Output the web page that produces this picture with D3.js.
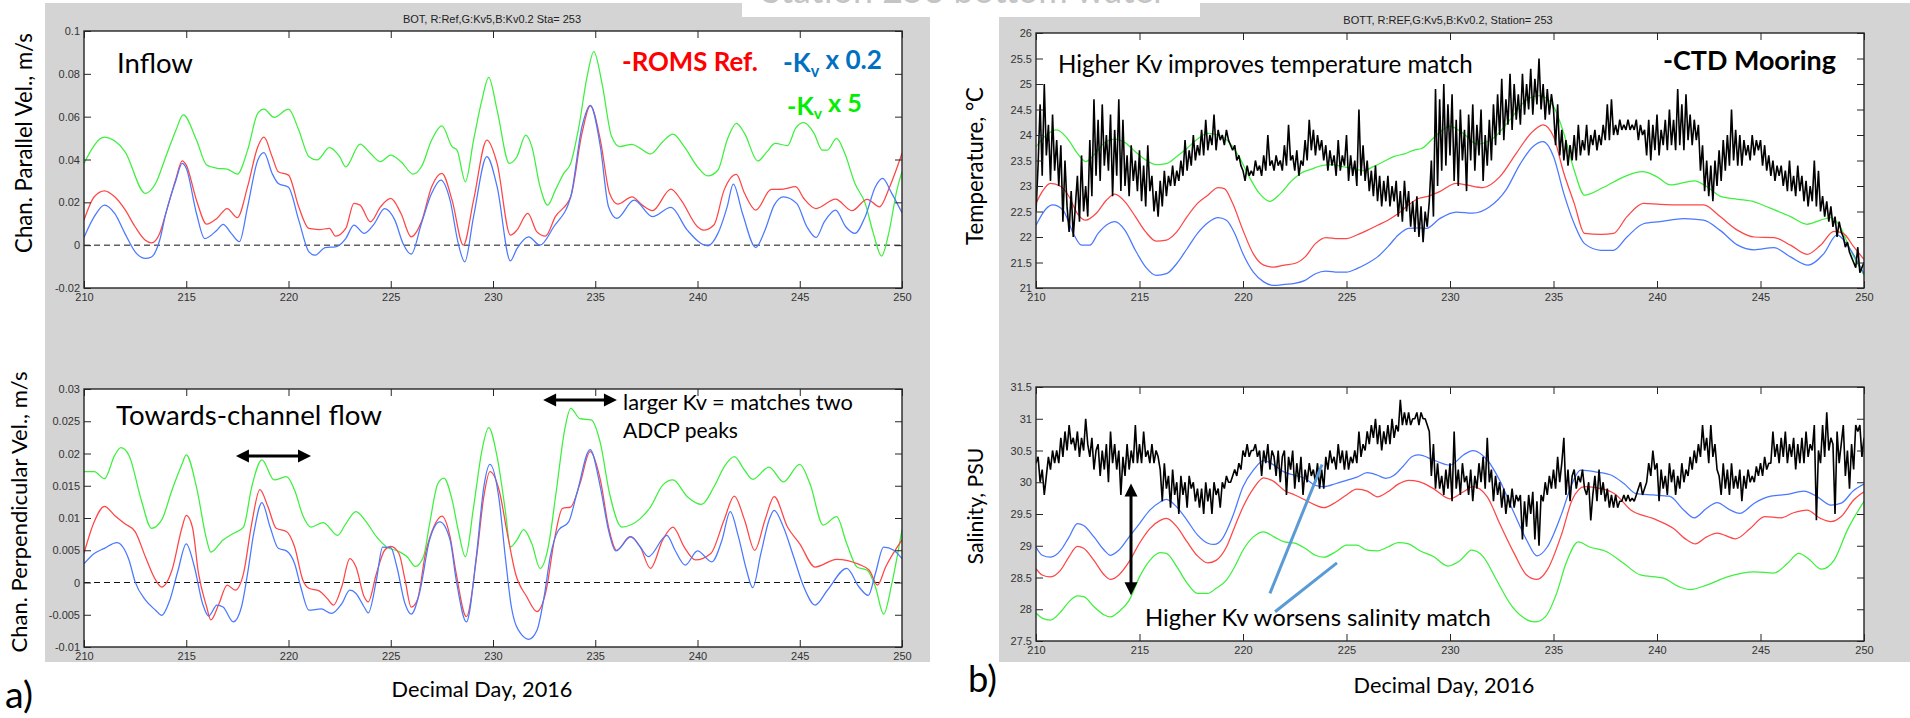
<!DOCTYPE html>
<html><head><meta charset="utf-8">
<script src="https://cdn.jsdelivr.net/npm/d3@7"></script>
<style>
html,body{margin:0;padding:0;background:#fff;}
svg{display:block;}
</style></head><body>
<svg id="fig" width="1910" height="718"></svg>
<script>
// ---------- data: model runs as [decimal day, value] ----------
const dayTicks = [210, 215, 220, 225, 230, 235, 240, 245, 250];
const inflowTicks = [-0.02, 0, 0.02, 0.04, 0.06, 0.08, 0.1];
const crossTicks = [-0.01, -0.005, 0, 0.005, 0.01, 0.015, 0.02, 0.025, 0.03];
const tempTicks = [21, 21.5, 22, 22.5, 23, 23.5, 24, 24.5, 25, 25.5, 26];
const saltTicks = [27.5, 28, 28.5, 29, 29.5, 30, 30.5, 31, 31.5];

// channel-parallel velocity (m/s)
const inflowKv5 = [[210,0.0382],[211,0.0504],[212,0.0437],[213,0.0242],[213.5,0.0288],[214,0.0413],[214.5,0.0538],[214.85,0.0608],[215.5,0.0491],[216,0.0374],[216.5,0.0359],[217,0.0355],[217.5,0.0332],[218,0.0444],[218.5,0.0616],[218.8,0.0635],[219.3,0.0597],[220,0.0635],[220.5,0.0538],[221,0.0413],[221.4,0.0398],[222,0.0455],[222.5,0.0413],[222.8,0.0366],[223.5,0.0472],[224,0.0429],[224.5,0.039],[225,0.0421],[225.5,0.039],[226.1,0.0332],[226.5,0.0366],[227,0.0491],[227.5,0.0557],[228,0.046],[228.24,0.0444],[228.65,0.0296],[229.05,0.0491],[229.46,0.0678],[229.79,0.0784],[230.2,0.0631],[230.8,0.0382],[231.17,0.0413],[231.6,0.0514],[231.9,0.046],[232.3,0.0273],[232.67,0.0187],[233.05,0.0257],[233.46,0.0335],[233.8,0.0382],[234.2,0.0553],[234.6,0.0787],[234.93,0.0904],[235.33,0.0756],[235.8,0.0507],[236.2,0.046],[236.8,0.0471],[237.2,0.0452],[237.7,0.0426],[238.3,0.0483],[238.8,0.0518],[239.35,0.046],[240,0.0366],[240.5,0.0323],[241,0.0351],[241.45,0.0491],[241.9,0.0569],[242.3,0.0522],[242.95,0.0393],[243.4,0.0437],[243.8,0.0475],[244.4,0.0465],[244.8,0.0546],[245.2,0.0572],[245.7,0.0522],[246.1,0.0444],[246.35,0.0444],[246.8,0.0499],[247.2,0.0429],[247.7,0.0288],[248.2,0.0195],[248.6,0.0055],[249,-0.0051],[249.35,0.0055],[249.75,0.0257],[250,0.0343]];
const inflowRef = [[210,0.0117],[210.5,0.0226],[211,0.0254],[211.5,0.0226],[212,0.0167],[212.5,0.0086],[213,0.0023],[213.3,0.0011],[213.7,0.0055],[214,0.0148],[214.5,0.0312],[214.8,0.0394],[215,0.0374],[215.5,0.021],[216,0.0098],[216.5,0.0125],[217,0.0171],[217.5,0.0129],[218,0.0273],[218.5,0.046],[218.8,0.0504],[219.2,0.0413],[219.5,0.0343],[220,0.0327],[220.5,0.0179],[221,0.0078],[221.5,0.0073],[222,0.0078],[222.3,0.0042],[222.8,0.0078],[223.2,0.0195],[223.5,0.0187],[224,0.0109],[224.5,0.0179],[225,0.0218],[225.5,0.0148],[226,0.0039],[226.5,0.0109],[227,0.0273],[227.5,0.0335],[228,0.021],[228.55,0.0],[229.05,0.021],[229.7,0.0491],[230.2,0.0382],[230.85,0.0047],[231.17,0.007],[231.7,0.0148],[232.15,0.0062],[232.56,0.0042],[233.05,0.0133],[233.8,0.0226],[234.35,0.0522],[234.76,0.065],[235.25,0.0491],[235.7,0.0242],[236.1,0.0192],[236.8,0.0226],[237.3,0.0187],[237.8,0.0161],[238.7,0.0262],[239.2,0.021],[240,0.0086],[240.3,0.007],[240.8,0.0094],[241.3,0.0257],[241.9,0.0331],[242.3,0.0242],[242.85,0.0164],[243.6,0.026],[244.2,0.0262],[244.8,0.0273],[245.2,0.0218],[245.8,0.0171],[246.75,0.0215],[247.55,0.0161],[248.3,0.0214],[248.9,0.0179],[249.4,0.0273],[250,0.0429]];
const inflowKv02 = [[210,0.0036],[210.5,0.0133],[211,0.0187],[211.5,0.0148],[212,0.0055],[212.5,-0.0031],[213,-0.0062],[213.3,-0.0055],[213.7,0.0023],[214,0.0148],[214.5,0.0304],[214.8,0.0382],[215,0.0359],[215.5,0.0148],[215.9,0.0031],[216.5,0.007],[216.8,0.0097],[217.2,0.0055],[217.6,0.0016],[218,0.0179],[218.5,0.0398],[218.8,0.0432],[219.2,0.0335],[219.5,0.0288],[220,0.027],[220.5,0.0117],[221,-0.0031],[221.3,-0.0047],[221.8,-0.0011],[222.3,-0.0008],[222.8,0.0031],[223.2,0.0094],[223.7,0.0055],[224.2,0.0101],[224.7,0.0171],[225.2,0.0117],[225.6,0.0008],[226,-0.0042],[226.5,0.0101],[227,0.0242],[227.45,0.0304],[227.9,0.021],[228.3,0.0008],[228.62,-0.0078],[229.05,0.0133],[229.7,0.0413],[230.2,0.0273],[230.85,-0.0073],[231.17,-0.0016],[231.74,0.0039],[232.3,0.0],[232.97,0.0086],[233.8,0.0226],[234.35,0.0553],[234.76,0.0653],[235.25,0.046],[235.65,0.0179],[236.05,0.0125],[236.9,0.021],[237.8,0.0133],[238.7,0.0176],[239.5,0.007],[240.5,-0.0003],[241,0.0055],[241.45,0.0179],[241.75,0.0285],[242.2,0.0148],[242.85,-0.0011],[243.3,0.007],[243.75,0.0187],[244.2,0.0226],[244.85,0.0195],[245.35,0.0086],[245.8,0.0036],[246.2,0.0109],[246.75,0.0164],[247.25,0.0086],[247.7,0.0055],[248.2,0.0133],[248.7,0.0273],[249.05,0.0312],[249.5,0.0242],[250,0.0151]];

// channel-perpendicular velocity (m/s)
const crossKv5 = [[210,0.0172],[210.5,0.0172],[211,0.0161],[211.5,0.0197],[211.8,0.0209],[212.2,0.0197],[212.8,0.0128],[213.3,0.0084],[213.8,0.0097],[214.3,0.0143],[214.8,0.0184],[215,0.0198],[215.5,0.0148],[216,0.0066],[216.2,0.0047],[216.8,0.0066],[217.3,0.0076],[217.8,0.0086],[218.2,0.0148],[218.7,0.019],[219.3,0.0159],[219.9,0.0164],[220.3,0.0143],[220.7,0.0104],[221.1,0.0086],[221.7,0.0093],[222.4,0.0073],[222.8,0.0091],[223.3,0.011],[223.8,0.0094],[224.3,0.0071],[224.8,0.0055],[225.4,0.0048],[225.8,0.004],[226.2,0.0025],[226.6,0.004],[226.9,0.0091],[227.3,0.0153],[227.6,0.0162],[228,0.0128],[228.3,0.0081],[228.65,0.004],[229.05,0.0117],[229.46,0.0205],[229.79,0.024],[230.2,0.0195],[230.6,0.0112],[230.85,0.0055],[231.17,0.0066],[231.5,0.0082],[231.9,0.006],[232.3,0.0022],[232.7,0.0055],[233.1,0.0143],[233.5,0.0236],[233.8,0.027],[234.25,0.0254],[234.8,0.0252],[235.25,0.0216],[235.7,0.0138],[236.3,0.0086],[237.2,0.0099],[237.7,0.0117],[238.3,0.0151],[238.8,0.0159],[239.5,0.0133],[240.2,0.0121],[240.8,0.0148],[241.3,0.0179],[241.8,0.0195],[242.3,0.0174],[242.7,0.016],[243.5,0.0179],[244.2,0.0156],[245,0.0183],[245.5,0.0153],[246.15,0.0089],[246.8,0.0102],[247.3,0.006],[247.8,0.0024],[248.3,0.0019],[248.7,-0.0007],[249.1,-0.0049],[249.5,-0.0002],[250,0.0082]];
const crossRef = [[210,0.0045],[210.5,0.0094],[211,0.0118],[211.5,0.0104],[212,0.0091],[212.5,0.0079],[213,0.004],[213.5,0.0004],[213.8,-0.0007],[214.3,0.0019],[214.8,0.0086],[215,0.0104],[215.3,0.0086],[215.6,0.0014],[216,-0.0038],[216.2,-0.0058],[216.6,-0.0033],[217,-0.0004],[217.4,-0.0012],[217.8,0.0014],[218.2,0.0091],[218.6,0.0144],[219,0.0117],[219.4,0.0084],[219.9,0.0079],[220.3,0.0055],[220.7,0.0004],[221,-0.0009],[221.5,-0.0013],[221.9,-0.0025],[222.2,-0.0035],[222.6,-0.0007],[223,0.0037],[223.3,0.0024],[223.7,-0.0022],[223.9,-0.003],[224.3,0.0014],[224.7,0.005],[225,0.0056],[225.4,0.0045],[225.7,0.0004],[226,-0.0038],[226.3,-0.0027],[226.7,0.0045],[227.1,0.0086],[227.5,0.0103],[227.9,0.0071],[228.2,0.0014],[228.7,-0.0053],[229.2,0.004],[229.55,0.0133],[229.85,0.0172],[230.3,0.0143],[230.7,0.0076],[231.1,0.0014],[231.65,-0.0022],[232.15,-0.0045],[232.6,-0.0012],[233,0.0066],[233.4,0.0115],[233.8,0.0117],[234.25,0.0153],[234.75,0.0203],[235.25,0.0159],[235.65,0.0086],[236.05,0.005],[236.7,0.0071],[237.2,0.0055],[237.7,0.0022],[238.3,0.0066],[238.8,0.0086],[239.35,0.0055],[239.9,0.0035],[240.65,0.0045],[241.3,0.0097],[241.8,0.0134],[242.3,0.0097],[242.8,0.005],[243.3,0.0097],[243.75,0.0133],[244.4,0.0086],[245,0.006],[245.75,0.0024],[246.8,0.0036],[247.9,0.0028],[248.4,0.0019],[248.8,-0.0004],[249.2,0.0024],[250,0.0066]];
const crossKv02 = [[210,0.0029],[210.5,0.0045],[211,0.0053],[211.6,0.0062],[212.2,0.0035],[212.5,0.0001],[213,-0.0027],[213.5,-0.0043],[213.8,-0.0051],[214.2,-0.0027],[214.6,0.0019],[215,0.006],[215.4,0.0024],[215.8,-0.0033],[216.1,-0.0052],[216.5,-0.0035],[216.8,-0.0038],[217.3,-0.0061],[217.7,-0.0038],[218,0.0014],[218.3,0.0076],[218.7,0.0124],[219.1,0.0086],[219.5,0.0053],[219.9,0.0049],[220.3,0.0029],[220.6,-0.0007],[221,-0.0043],[221.6,-0.0041],[222.1,-0.0048],[222.6,-0.0033],[223,-0.0012],[223.3,-0.0017],[223.7,-0.0038],[223.9,-0.0047],[224.3,0.0004],[224.6,0.0055],[225,0.0054],[225.3,0.0024],[225.7,-0.0033],[226,-0.0049],[226.4,-0.0017],[226.9,0.0066],[227.4,0.0094],[227.9,0.0066],[228.2,0.0004],[228.7,-0.0061],[229.2,0.0045],[229.55,0.0148],[229.85,0.0183],[230.3,0.0128],[230.6,0.004],[230.9,-0.0038],[231.35,-0.0079],[231.75,-0.0088],[232.15,-0.0074],[232.5,-0.0022],[232.8,0.004],[233.2,0.0081],[233.7,0.0094],[234.1,0.0138],[234.75,0.0206],[235.25,0.0148],[235.65,0.0081],[236,0.0049],[236.75,0.0071],[237.2,0.0055],[237.6,0.004],[238.5,0.0073],[238.9,0.005],[239.4,0.0027],[240,0.0049],[240.7,0.0032],[241.2,0.0066],[241.6,0.011],[242,0.0071],[242.4,0.0019],[242.7,-0.0008],[243.1,0.0045],[243.5,0.0097],[243.75,0.0112],[244.2,0.0086],[244.7,0.004],[245.2,-0.0007],[245.75,-0.0035],[246.35,-0.0012],[247.3,0.0022],[247.9,-0.0007],[248.35,-0.002],[248.7,0.0014],[249.1,0.0055],[249.6,0.005],[250,0.0037]];

// bottom temperature (°C)
const tempKv5 = [[210,23.77],[210.5,24.0],[211,24.1],[211.5,23.94],[212,23.64],[212.4,23.48],[212.8,23.61],[213.3,23.85],[213.8,23.92],[214.3,23.85],[214.8,23.67],[215.3,23.51],[215.8,23.42],[216.3,23.44],[216.8,23.58],[217.3,23.74],[217.8,23.92],[218.3,24.03],[218.8,24.0],[219.3,23.87],[219.8,23.58],[220.3,23.18],[220.8,22.85],[221.3,22.7],[221.8,22.85],[222.3,23.08],[222.8,23.25],[223.3,23.33],[223.8,23.4],[224.3,23.42],[224.8,23.38],[225.3,23.35],[225.8,23.3],[226.3,23.38],[226.8,23.48],[227.3,23.58],[227.8,23.63],[228.3,23.71],[228.6,23.73],[229.2,23.94],[230,24.17],[230.65,24.03],[231.3,23.82],[232.1,23.94],[232.9,24.3],[233.7,24.69],[234.35,24.77],[235,24.56],[235.5,24.03],[236,23.31],[236.5,22.82],[237.4,22.97],[238.4,23.18],[239.3,23.28],[240,23.18],[240.65,23.02],[241.8,23.1],[242.4,22.99],[243.1,22.79],[243.9,22.74],[244.7,22.69],[245.5,22.56],[246.45,22.4],[247.25,22.25],[247.9,22.33],[248.4,22.38],[248.85,22.2],[249.35,21.74],[250,21.25]];
const tempRef = [[210,22.66],[210.3,22.89],[210.7,23.05],[211.2,22.99],[211.6,22.79],[212,22.46],[212.4,22.33],[212.9,22.46],[213.4,22.72],[213.8,22.84],[214.3,22.69],[214.8,22.4],[215.3,22.1],[215.8,21.92],[216.3,21.94],[216.8,22.1],[217.3,22.4],[217.8,22.66],[218.3,22.82],[218.8,22.97],[219.1,22.95],[219.5,22.66],[220,22.13],[220.5,21.67],[221,21.45],[221.5,21.41],[222,21.45],[222.5,21.48],[223,21.61],[223.5,21.87],[224,21.99],[224.6,21.97],[225,21.97],[225.5,22.04],[226,22.13],[226.5,22.23],[227,22.33],[227.5,22.46],[228,22.63],[228.5,22.76],[228.87,22.79],[229.5,22.89],[230.3,23.05],[230.8,23.02],[231.6,22.97],[232.4,23.18],[233.2,23.64],[233.9,24.03],[234.5,24.2],[235,23.97],[235.5,23.25],[236,22.66],[236.5,22.07],[237.3,22.05],[237.9,22.07],[238.55,22.4],[239.35,22.66],[240.15,22.64],[241.3,22.63],[242.25,22.63],[243.05,22.4],[243.9,22.13],[244.7,22.0],[245.65,21.99],[246.45,21.84],[247.25,21.66],[247.9,21.84],[248.55,22.11],[249,22.07],[249.5,21.81],[250,21.56]];
const tempKv02 = [[210,22.23],[210.5,22.56],[210.8,22.63],[211.3,22.53],[211.8,22.07],[212.2,21.84],[212.6,21.84],[213,22.07],[213.5,22.26],[213.8,22.3],[214.3,22.13],[214.8,21.74],[215.3,21.41],[215.8,21.25],[216.3,21.28],[216.8,21.48],[217.3,21.77],[217.8,22.07],[218.3,22.28],[218.8,22.38],[219.2,22.33],[219.6,22.07],[220,21.67],[220.5,21.31],[221,21.12],[221.5,21.05],[222,21.07],[222.5,21.09],[223,21.15],[223.5,21.28],[224,21.33],[224.6,21.31],[225,21.31],[225.5,21.38],[226,21.48],[226.5,21.61],[227,21.81],[227.5,22.04],[228,22.17],[228.5,22.18],[228.87,22.17],[229.5,22.36],[230.3,22.49],[231.1,22.47],[231.9,22.59],[232.7,22.92],[233.4,23.44],[234,23.77],[234.5,23.87],[235,23.58],[235.5,22.85],[236,22.26],[236.5,21.87],[237.3,21.74],[237.9,21.74],[238.55,22.0],[239.35,22.26],[240.15,22.3],[241.3,22.36],[242.25,22.33],[243.05,22.13],[243.9,21.84],[244.7,21.75],[245.65,21.79],[246.45,21.61],[247.3,21.45],[248.05,21.67],[248.7,22.04],[249.2,21.84],[249.7,21.51],[250,21.28]];
// CTD mooring temperature, sampled every 0.1 day from day 210
const tempObs = [
22.5,23.4,24.6,23.2,25.0,23.6,24.2,23.1,24.4,23.3,
23.9,23.0,23.8,22.3,23.5,22.6,22.1,22.9,22.0,22.6,
23.2,22.3,23.6,22.5,23.0,22.4,23.9,22.8,24.7,23.2,
24.3,23.1,24.6,23.4,24.0,23.3,24.4,22.8,24.1,23.2,
24.7,22.9,24.3,23.0,23.6,22.8,23.8,23.1,23.5,22.9,
23.7,22.7,23.4,22.6,23.8,22.9,23.2,22.5,22.9,22.4,
23.1,22.6,23.3,22.8,23.2,23.0,23.4,23.0,23.3,23.1,
23.5,23.2,23.9,23.3,23.7,23.4,24.0,23.5,23.8,23.6,
24.1,23.6,24.3,23.7,24.0,23.8,24.4,23.7,24.1,23.9,
24.0,23.8,24.1,23.9,23.8,23.7,23.8,23.5,23.6,23.4,
23.3,23.1,23.4,23.2,23.3,23.2,23.5,23.3,23.4,23.2,
23.6,23.3,24.0,23.4,23.5,23.3,23.6,23.4,23.5,23.3,
23.8,23.4,24.2,23.5,23.6,23.3,23.7,23.2,23.5,23.4,
23.9,23.5,24.3,23.7,24.1,23.6,24.0,23.7,23.9,23.5,
23.8,23.3,23.7,23.4,23.6,23.2,23.9,23.3,23.6,23.4,
24.0,23.1,23.6,23.2,23.5,23.0,24.5,23.2,23.8,23.1,
23.5,22.9,23.3,22.8,23.4,22.7,23.2,22.6,23.1,22.7,
23.2,22.6,23.0,22.7,23.1,22.4,22.9,22.3,23.1,22.5,
22.9,22.2,22.7,22.1,22.8,22.0,22.6,21.9,22.5,22.2,
22.7,23.5,22.4,24.9,23.0,24.7,23.3,25.0,23.4,24.6,
23.6,24.8,23.1,24.3,23.0,24.5,23.5,24.1,22.9,24.4,
23.5,24.6,23.3,24.2,23.6,24.5,23.1,24.0,23.4,24.3,
23.5,24.6,23.8,24.8,24.0,25.1,23.9,24.7,24.2,25.2,
24.1,25.0,24.3,24.8,24.2,25.2,24.4,25.0,24.5,25.3,
24.4,25.1,24.6,25.5,24.5,25.0,24.3,24.9,24.4,24.8,
24.5,23.8,24.6,23.6,24.1,23.5,23.9,23.4,23.8,23.5,
24.0,23.5,24.2,23.6,23.9,23.7,24.2,23.6,24.0,23.8,
24.1,23.7,24.0,23.8,24.2,23.9,24.6,23.9,24.7,24.0,
24.2,24.0,24.3,24.1,24.2,24.1,24.3,24.1,24.2,24.1,
24.3,23.9,24.2,24.0,24.1,23.6,24.3,23.5,24.2,23.7,
24.4,23.6,24.1,23.8,24.3,23.7,24.5,23.8,24.3,23.7,
24.9,23.8,24.6,23.7,24.8,23.9,24.4,23.8,24.3,23.9,
24.2,23.3,23.8,22.9,23.5,22.8,23.4,22.7,23.5,23.0,
23.7,23.1,23.9,23.3,24.0,23.4,24.5,23.5,24.1,23.4,
24.0,23.4,23.9,23.6,23.8,23.5,24.0,23.6,23.9,23.7,
23.9,23.4,23.8,23.3,23.6,23.2,23.5,23.1,23.4,23.2,
23.4,23.0,23.3,22.9,23.5,22.9,23.2,22.8,23.4,22.9,
23.2,22.7,23.1,22.6,23.0,22.7,23.5,22.6,23.3,22.5,
22.8,22.4,22.7,22.3,22.6,22.2,22.4,22.0,22.3,22.1,
22.0,21.8,21.9,21.7,21.6,21.5,21.4,21.8,21.3,21.4,
21.5];

// bottom salinity (PSU)
const saltKv02 = [[210,28.98],[210.3,28.85],[210.7,28.82],[211.2,28.93],[211.6,29.14],[212,29.35],[212.3,29.32],[212.8,29.14],[213.3,28.93],[213.6,28.85],[214,28.93],[214.5,29.14],[215,29.35],[215.5,29.56],[216,29.69],[216.3,29.73],[216.8,29.61],[217.3,29.4],[217.8,29.17],[218.3,29.04],[218.6,29.02],[219,29.11],[219.5,29.46],[220,29.93],[220.5,30.19],[221,30.34],[221.5,30.27],[222,30.16],[222.5,30.11],[223,30.06],[223.5,29.95],[223.9,29.93],[224.5,29.98],[225,30.03],[225.5,30.08],[226,30.15],[226.5,30.11],[226.9,30.06],[227.3,30.11],[227.7,30.24],[228.2,30.41],[228.5,30.43],[229.2,30.35],[230,30.27],[230.65,30.43],[231.1,30.5],[231.8,30.35],[232.4,30.03],[233.1,29.51],[233.7,29.09],[234.2,28.84],[234.7,28.98],[235.4,29.51],[235.9,29.98],[236.3,30.19],[237.1,30.16],[237.8,30.11],[238.4,29.98],[239,29.82],[239.8,29.8],[240.6,29.78],[241.3,29.56],[241.8,29.44],[242.4,29.59],[242.9,29.68],[243.55,29.56],[244,29.51],[244.7,29.67],[245.5,29.78],[246.3,29.81],[247.1,29.86],[247.75,29.77],[248.4,29.64],[248.9,29.67],[249.5,29.87],[250,29.97]];
const saltRef = [[210,28.64],[210.3,28.54],[210.7,28.51],[211.2,28.62],[211.6,28.83],[212,28.99],[212.3,28.96],[212.8,28.77],[213.3,28.54],[213.6,28.47],[214,28.54],[214.5,28.75],[215,29.04],[215.5,29.27],[216,29.4],[216.3,29.43],[216.8,29.3],[217.3,29.06],[217.8,28.84],[218.3,28.73],[218.7,28.77],[219.2,28.98],[219.6,29.3],[220,29.61],[220.5,29.9],[221,30.07],[221.5,30.01],[222,29.87],[222.5,29.8],[223,29.72],[223.5,29.64],[223.9,29.6],[224.5,29.69],[225,29.8],[225.5,29.89],[226,29.86],[226.5,29.77],[227,29.85],[227.5,29.97],[228,30.03],[228.5,30.01],[229.2,29.9],[230,29.74],[230.65,29.85],[231.1,29.93],[231.8,29.77],[232.4,29.35],[233.1,28.88],[233.7,28.54],[234.2,28.47],[234.7,28.62],[235.4,29.19],[235.9,29.72],[236.5,29.93],[237.3,29.9],[237.95,29.82],[238.75,29.56],[239.8,29.43],[240.8,29.27],[241.45,29.09],[241.85,29.03],[242.4,29.14],[242.9,29.2],[243.8,29.11],[244.5,29.27],[245.2,29.46],[246,29.44],[246.6,29.52],[247.25,29.56],[247.9,29.43],[248.4,29.38],[248.9,29.46],[249.5,29.72],[250,29.85]];
const saltKv5 = [[210,27.94],[210.3,27.86],[210.7,27.83],[211.2,27.96],[211.6,28.12],[212,28.21],[212.3,28.2],[212.8,28.04],[213.3,27.91],[213.6,27.88],[214,27.96],[214.5,28.14],[215,28.51],[215.5,28.77],[216,28.89],[216.3,28.88],[216.8,28.67],[217.3,28.41],[217.8,28.25],[218.3,28.25],[218.7,28.33],[219.2,28.46],[219.6,28.67],[220,28.93],[220.5,29.14],[221,29.22],[221.5,29.14],[222,29.06],[222.5,29.04],[223,28.96],[223.5,28.85],[223.9,28.82],[224.5,28.91],[225,29.01],[225.5,29.01],[226,28.93],[226.5,28.92],[227,28.98],[227.5,29.05],[228,29.03],[228.5,28.93],[229.2,28.83],[229.9,28.68],[230.5,28.77],[231.05,28.93],[231.6,28.83],[232.25,28.46],[232.9,28.09],[233.5,27.88],[234.1,27.8],[234.6,27.88],[235.15,28.25],[235.6,28.72],[236.2,29.06],[236.75,28.98],[237.55,28.91],[238.4,28.72],[239.2,28.54],[240.3,28.49],[241.1,28.35],[241.6,28.31],[242.4,28.38],[243.4,28.51],[244.7,28.59],[245.65,28.57],[246.3,28.72],[246.85,28.88],[247.3,28.8],[247.95,28.63],[248.55,28.77],[249.2,29.25],[250,29.7]];
// CTD mooring salinity, sampled every 0.1 day from day 210
const saltObs = [
30.3,30.4,30.0,30.2,29.8,30.1,30.4,30.2,30.5,30.3,
30.5,30.3,30.7,30.4,30.8,30.5,30.9,30.6,30.7,30.5,
30.8,30.4,30.7,30.5,31.0,30.6,30.4,30.7,30.2,30.5,
30.6,30.1,30.5,30.2,30.6,30.0,30.8,30.3,30.6,30.2,
30.5,29.8,30.4,30.1,30.6,30.2,30.5,30.3,30.9,30.3,
30.6,30.3,30.8,30.4,30.5,30.3,30.6,30.3,30.5,30.4,
30.2,29.7,30.3,29.9,30.1,29.6,30.2,29.8,30.0,29.5,
30.1,29.8,30.0,29.6,30.1,29.9,30.0,29.7,29.9,29.6,
29.9,29.5,30.0,29.7,29.9,29.5,30.0,29.8,29.9,29.6,
30.0,29.9,30.1,30.0,30.0,30.1,30.2,30.1,30.3,30.2,
30.5,30.4,30.6,30.4,30.5,30.5,30.6,30.4,30.5,30.1,
30.5,30.3,30.6,30.2,30.5,30.4,30.1,30.5,30.0,30.4,
30.5,29.8,30.4,30.2,30.5,29.9,30.3,30.0,30.4,29.8,
30.2,30.0,30.3,30.1,30.2,30.0,30.3,29.9,30.2,29.9,
30.4,30.2,30.5,30.3,30.4,30.2,30.6,30.3,30.5,30.2,
30.5,30.2,30.4,30.3,30.5,30.3,30.8,30.4,30.6,30.5,
30.8,30.6,30.9,30.7,31.0,30.6,30.9,30.5,30.8,30.6,
30.9,30.6,31.0,30.7,30.9,30.8,31.3,30.9,31.1,30.9,
31.1,30.9,31.0,31.0,31.1,30.9,31.1,31.0,31.0,30.9,
30.8,30.1,30.6,29.9,30.3,29.9,30.1,29.8,30.2,29.9,
30.3,29.7,30.8,29.9,30.2,29.8,30.3,30.0,30.1,29.8,
30.2,29.7,30.1,29.9,30.3,30.0,30.4,29.9,30.7,30.0,
30.2,29.7,30.1,29.8,30.0,29.6,29.9,29.5,29.8,29.6,
29.9,29.6,29.8,29.7,29.8,29.1,29.7,29.3,29.8,29.5,
29.85,29.1,29.7,29.0,29.8,29.7,30.0,29.8,30.1,29.9,
30.2,29.9,30.4,30.0,30.3,30.7,29.8,30.2,29.7,30.1,
30.2,29.9,30.1,30.0,30.2,29.9,29.8,30.0,29.4,29.8,
30.1,29.7,30.2,29.8,30.0,29.7,29.9,29.6,29.8,29.6,
29.8,29.6,29.7,29.7,29.8,29.7,29.8,29.7,29.75,29.7,
29.8,29.9,30.0,29.8,29.9,30.0,30.3,30.1,30.5,30.2,
30.3,29.7,30.2,29.9,30.1,29.8,30.3,30.0,30.2,29.8,
30.1,29.9,30.3,30.0,30.2,30.1,30.4,30.2,30.5,30.3,
30.6,30.4,30.9,30.5,30.7,30.3,30.9,30.4,30.6,30.2,
30.1,29.8,30.3,29.9,30.2,29.8,30.3,29.9,30.1,29.9,
30.2,29.7,30.1,29.9,30.2,30.0,30.1,30.0,30.25,30.1,
30.3,30.1,30.4,30.2,30.3,30.3,30.8,30.4,30.6,30.3,
30.7,30.4,30.8,30.3,30.6,30.4,30.7,30.2,30.6,30.3,
30.7,30.3,30.8,30.4,30.6,30.5,30.9,29.4,30.5,30.3,
30.9,30.4,31.1,30.5,30.7,30.6,29.5,30.8,30.3,30.6,
30.9,30.1,30.5,29.9,30.6,30.2,30.9,30.8,30.9,30.4,
30.7];
const obsStartDay = 210, obsStepDay = 0.1;

// ---------- drawing ----------
const svg = d3.select('#fig');
const TXT = "Lato, 'Open Sans', sans-serif";
const TICK = "'Liberation Sans', Arial, sans-serif";
const COL = { ref: '#ff4545', kv02: '#4a78ff', kv5: '#3df03d', obs: '#000' };

function fitText(sel, width) {
  const w = sel.node().getComputedTextLength();
  if (w > 0) sel.attr('font-size', parseFloat(sel.attr('font-size')) * width / w);
  return sel;
}

// grey figure backgrounds
svg.append('rect').attr('x', 45).attr('y', 3).attr('width', 885).attr('height', 659).attr('fill', '#d4d4d4');
svg.append('rect').attr('x', 999).attr('y', 3).attr('width', 911).attr('height', 659).attr('fill', '#d4d4d4');
svg.append('rect').attr('x', 742).attr('y', 0).attr('width', 458).attr('height', 17).attr('fill', '#fff');
const capTitle = svg.append('text').attr('x', 964).attr('y', 3).attr('text-anchor', 'middle')
  .attr('font-family', TXT).attr('font-size', 30).attr('fill', '#c4c4c4').text('Station 253 bottom water');
fitText(capTitle, 405);

let clipCount = 0;
function drawPanel(geom, yDomain, yTicks, fmt) {
  const x = d3.scaleLinear().domain([210, 250]).range([geom.x0, geom.x1]);
  const y = d3.scaleLinear().domain(yDomain).range([geom.y1, geom.y0]);
  const id = 'clip' + (clipCount++);
  svg.append('clipPath').attr('id', id).append('rect')
    .attr('x', geom.x0).attr('y', geom.y0).attr('width', geom.x1 - geom.x0).attr('height', geom.y1 - geom.y0);
  svg.append('rect').attr('x', geom.x0).attr('y', geom.y0)
    .attr('width', geom.x1 - geom.x0).attr('height', geom.y1 - geom.y0).attr('fill', '#fff');
  const plot = svg.append('g').attr('clip-path', `url(#${id})`);
  return { x, y, plot, geom, yTicks, fmt };
}

function finishPanel(p) {
  const { x, y, geom, yTicks, fmt } = p;
  const style = g => {
    g.select('.domain').remove();
    g.selectAll('line').attr('stroke', '#262626').attr('stroke-width', 1);
    g.selectAll('text').attr('font-family', TICK).attr('font-size', 11).attr('fill', '#333');
  };
  svg.append('g').attr('transform', `translate(0,${geom.y1})`)
    .call(d3.axisBottom(x).tickValues(dayTicks).tickFormat(d3.format('d')).tickSize(-7).tickSizeOuter(0).tickPadding(5)).call(style);
  svg.append('g').attr('transform', `translate(0,${geom.y0})`)
    .call(d3.axisTop(x).tickValues(dayTicks).tickFormat('').tickSize(-7).tickSizeOuter(0)).call(style);
  svg.append('g').attr('transform', `translate(${geom.x0},0)`)
    .call(d3.axisLeft(y).tickValues(yTicks).tickFormat(fmt).tickSize(-7).tickSizeOuter(0).tickPadding(4)).call(style);
  svg.append('g').attr('transform', `translate(${geom.x1},0)`)
    .call(d3.axisRight(y).tickValues(yTicks).tickFormat('').tickSize(-7).tickSizeOuter(0)).call(style);
  svg.append('rect').attr('x', geom.x0).attr('y', geom.y0)
    .attr('width', geom.x1 - geom.x0).attr('height', geom.y1 - geom.y0)
    .attr('fill', 'none').attr('stroke', '#262626').attr('stroke-width', 1.4);
}

function modelLine(p, data, color) {
  const line = d3.line().x(d => p.x(d[0])).y(d => p.y(d[1])).curve(d3.curveMonotoneX);
  p.plot.append('path').datum(data).attr('d', line)
    .attr('fill', 'none').attr('stroke', color).attr('stroke-width', 1.25);
}
function obsLine(p, values) {
  const line = d3.line().x((d, i) => p.x(obsStartDay + i * obsStepDay)).y(d => p.y(d));
  p.plot.append('path').datum(values).attr('d', line)
    .attr('fill', 'none').attr('stroke', COL.obs).attr('stroke-width', 1.6).attr('stroke-linejoin', 'bevel');
}
function zeroLine(p) {
  p.plot.append('line').attr('x1', p.geom.x0).attr('x2', p.geom.x1)
    .attr('y1', p.y(0)).attr('y2', p.y(0))
    .attr('stroke', '#111').attr('stroke-width', 1).attr('stroke-dasharray', '6,4');
}

const fmtNum = d => String(+d.toFixed(3));

// panel a, top: channel-parallel velocity
const pA = drawPanel({ x0: 84, x1: 902, y0: 31, y1: 288 }, [-0.02, 0.1], inflowTicks, fmtNum);
zeroLine(pA);
modelLine(pA, inflowKv5, COL.kv5);
modelLine(pA, inflowRef, COL.ref);
modelLine(pA, inflowKv02, COL.kv02);
finishPanel(pA);

// panel a, bottom: channel-perpendicular velocity
const pB = drawPanel({ x0: 84, x1: 902, y0: 389, y1: 647 }, [-0.01, 0.03], crossTicks, fmtNum);
zeroLine(pB);
modelLine(pB, crossKv5, COL.kv5);
modelLine(pB, crossRef, COL.ref);
modelLine(pB, crossKv02, COL.kv02);
finishPanel(pB);

// panel b, top: temperature
const pC = drawPanel({ x0: 1036, x1: 1864, y0: 33, y1: 288 }, [21, 26], tempTicks, fmtNum);
modelLine(pC, tempKv5, COL.kv5);
modelLine(pC, tempRef, COL.ref);
modelLine(pC, tempKv02, COL.kv02);
obsLine(pC, tempObs);
finishPanel(pC);

// panel b, bottom: salinity
const pD = drawPanel({ x0: 1036, x1: 1864, y0: 387, y1: 641 }, [27.5, 31.5], saltTicks, fmtNum);
modelLine(pD, saltKv5, COL.kv5);
modelLine(pD, saltRef, COL.ref);
modelLine(pD, saltKv02, COL.kv02);
obsLine(pD, saltObs);
finishPanel(pD);

// small run titles above the axes
function smallTitle(xc, yb, str) {
  svg.append('text').attr('x', xc).attr('y', yb).attr('text-anchor', 'middle')
    .attr('font-family', TICK).attr('font-size', 11).attr('fill', '#222').text(str);
}
smallTitle(492, 23, 'BOT, R:Ref,G:Kv5,B:Kv0.2 Sta= 253');
smallTitle(1448, 24, 'BOTT, R:REF,G:Kv5,B:Kv0.2, Station= 253');

// text helpers
function label(xp, yb, str, width, opts = {}) {
  const t = svg.append('text').attr('x', xp).attr('y', yb)
    .attr('font-family', TXT).attr('font-size', opts.size || 24)
    .attr('font-weight', opts.weight || 400).attr('fill', opts.fill || '#000')
    .attr('text-anchor', opts.anchor || 'start').text(str);
  return fitText(t, width);
}
function yLabel(xb, yc, str, width) {
  const t = svg.append('text').attr('transform', `translate(${xb},${yc}) rotate(-90)`)
    .attr('text-anchor', 'middle').attr('font-family', TXT).attr('font-size', 22).attr('fill', '#000').text(str);
  return fitText(t, width);
}
function kvLegend(xp, yb, rest, width, fill) {
  const t = svg.append('text').attr('x', xp).attr('y', yb).attr('font-family', TXT)
    .attr('font-size', 26).attr('font-weight', 700).attr('fill', fill);
  t.append('tspan').text('-K');
  t.append('tspan').attr('font-size', '0.62em').attr('dy', '0.28em').text('v');
  t.append('tspan').attr('dy', '-0.28em').text(rest);
  return fitText(t, width);
}

// axis titles
yLabel(32, 143, 'Chan. Parallel Vel., m/s', 220);
yLabel(27, 512, 'Chan. Perpendicular Vel., m/s', 281);
yLabel(983, 166, 'Temperature, \u00B0C', 158);
yLabel(983, 506, 'Salinity, PSU', 117);
label(482, 697, 'Decimal Day, 2016', 181, { anchor: 'middle', size: 22 });
label(1444, 693, 'Decimal Day, 2016', 181, { anchor: 'middle', size: 22 });
label(5, 708, 'a)', 28, { size: 36 });
label(968, 692, 'b)', 29, { size: 36 });

// legend
label(622, 71, '-ROMS  Ref.', 136, { weight: 700, fill: '#ff0000', size: 26 });
kvLegend(783, 72, ' x 0.2', 99, '#0070c0');
kvLegend(787, 115, ' x 5', 75, '#00ee00');
label(1663, 70, '-CTD  Mooring', 173, { weight: 700, size: 26 });

// annotations
label(117, 73, 'Inflow', 76, { size: 28 });
label(116, 425, 'Towards-channel  flow', 266, { size: 26 });
label(623, 410, 'larger  Kv = matches two', 230, { size: 22 });
label(623, 438, 'ADCP peaks', 115, { size: 22 });
label(1058, 73, 'Higher Kv improves temperature match', 415, { size: 24 });
label(1145, 626, 'Higher Kv worsens salinity match', 346, { size: 24 });

// double-headed arrows in data coordinates
function arrow(p, d1, v1, d2, v2) {
  const x1 = p.x(d1), y1 = p.y(v1), x2 = p.x(d2), y2 = p.y(v2);
  const ang = Math.atan2(y2 - y1, x2 - x1), L = 13, H = 6.5;
  const ux = Math.cos(ang), uy = Math.sin(ang);
  svg.append('line').attr('x1', x1 + ux * L * 0.8).attr('y1', y1 + uy * L * 0.8)
    .attr('x2', x2 - ux * L * 0.8).attr('y2', y2 - uy * L * 0.8)
    .attr('stroke', '#000').attr('stroke-width', 3);
  const head = (tx, ty, s) => {
    const bx = tx - s * ux * L, by = ty - s * uy * L;
    svg.append('path').attr('d', `M${tx},${ty}L${bx - uy * H},${by + ux * H}L${bx + uy * H},${by - ux * H}Z`).attr('fill', '#000');
  };
  head(x2, y2, 1);
  head(x1, y1, -1);
}
arrow(pB, 217.43, 0.0196, 221.1, 0.0196);
arrow(pB, 232.45, 0.0283, 236.06, 0.0283);
arrow(pD, 214.59, 29.98, 214.59, 28.22);

// leader lines for the salinity note
function leader(p, d1, v1, d2, v2) {
  svg.append('line').attr('x1', p.x(d1)).attr('y1', p.y(v1)).attr('x2', p.x(d2)).attr('y2', p.y(v2))
    .attr('stroke', '#5b9bd5').attr('stroke-width', 3);
}
leader(pD, 221.3, 28.25, 223.82, 30.28);
leader(pD, 221.55, 27.96, 224.54, 28.73);
</script></body></html>
